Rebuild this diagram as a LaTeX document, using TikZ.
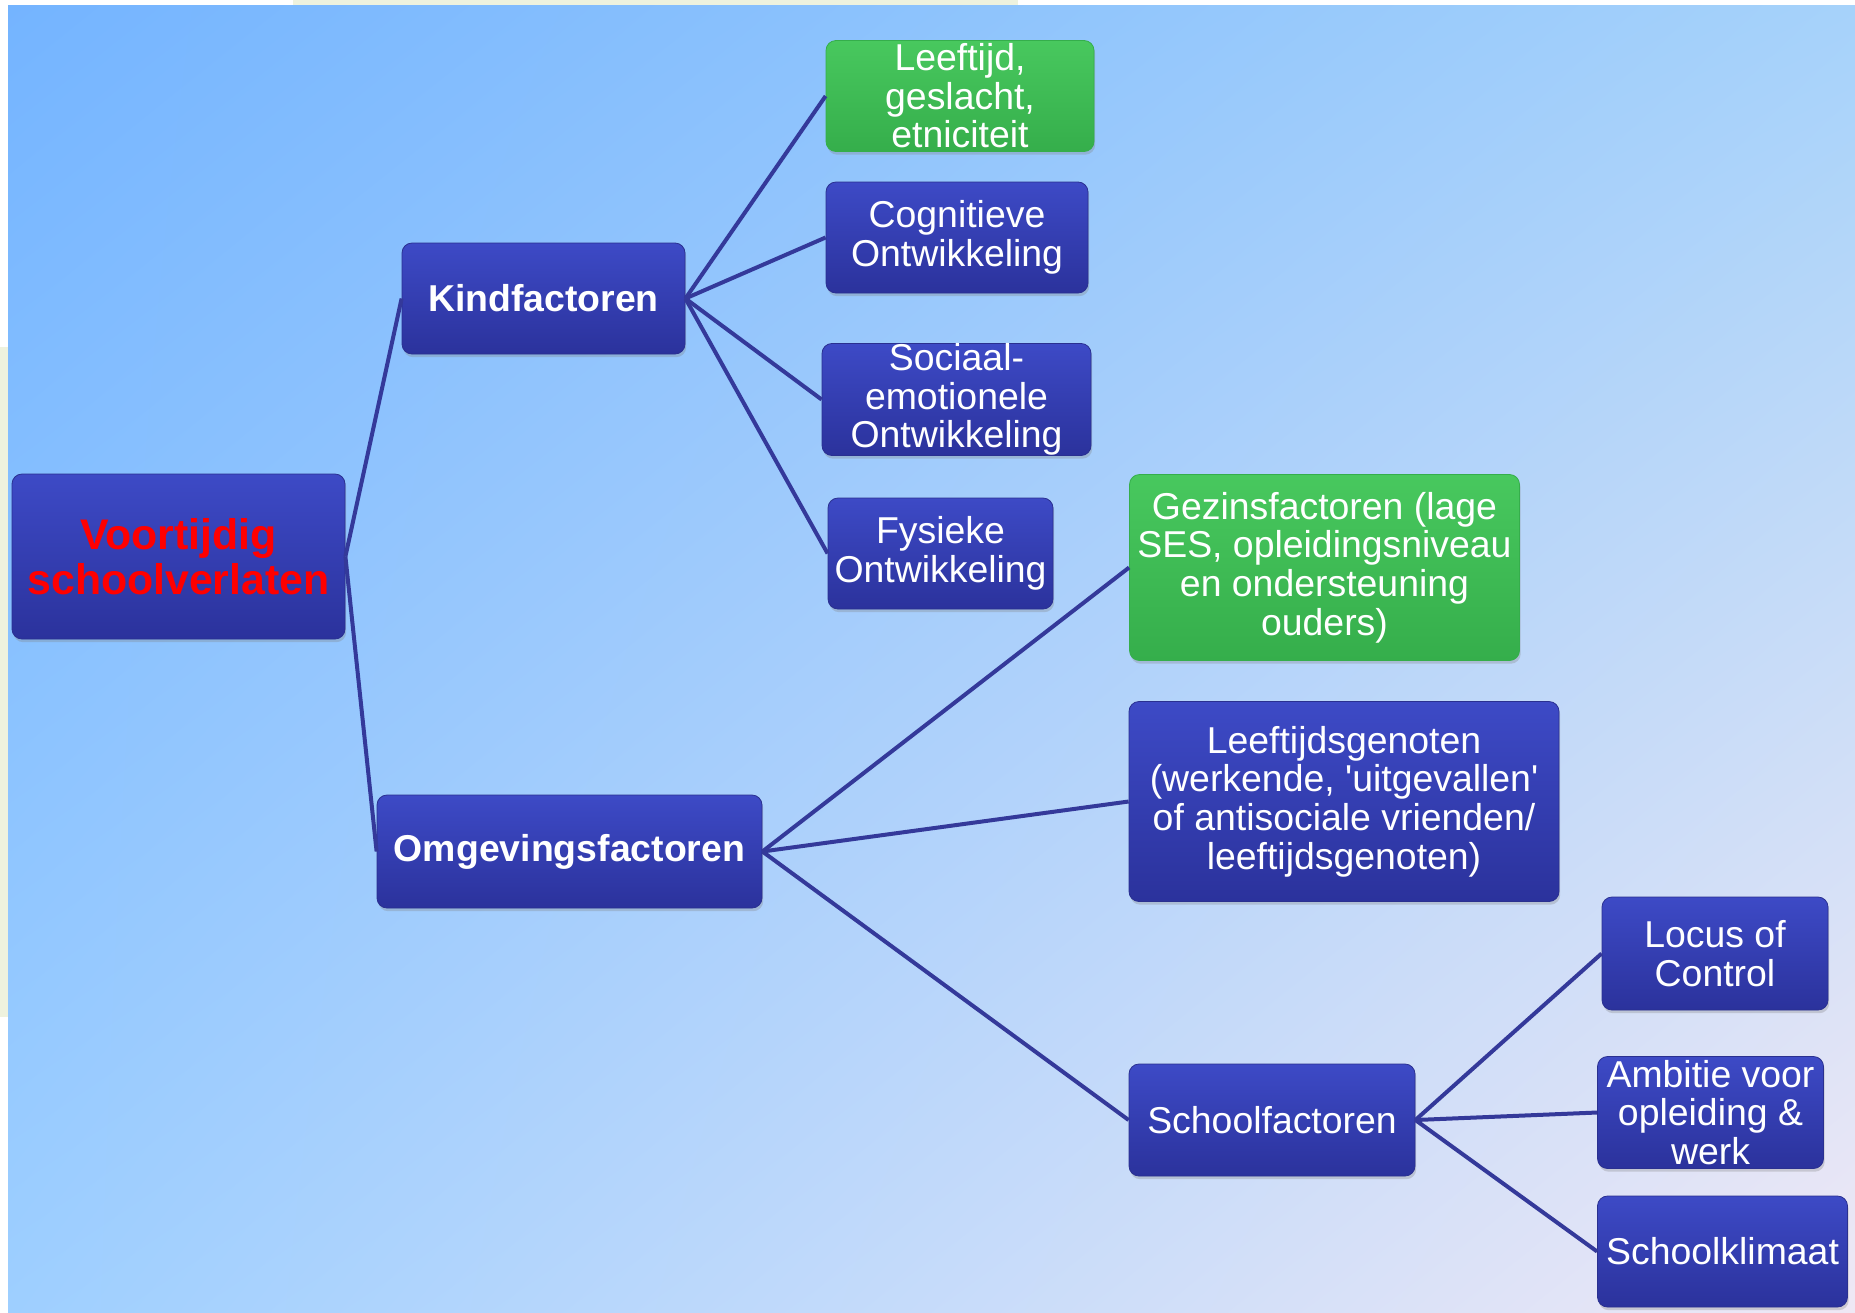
\documentclass[tikz,border=0pt]{standalone}
\usepackage{fontspec}
\setmainfont{Liberation Sans}
\usepackage{tikz}
\usetikzlibrary{shadows,shadings}
\definecolor{vsbgtl}{HTML}{74B4FF}
\definecolor{vsbgtr}{HTML}{A6D2FA}
\definecolor{vsbgbl}{HTML}{9ECFFF}
\definecolor{vsbgbr}{HTML}{EFE8F5}
\definecolor{vscream}{HTML}{EEF2DE}
\definecolor{vsblue}{HTML}{3340B8}
\definecolor{vsbluetop}{HTML}{3D4AC6}
\definecolor{vsbluebot}{HTML}{2B329C}
\definecolor{vsgreen}{HTML}{3DBE55}
\definecolor{vsgreentop}{HTML}{48C85E}
\definecolor{vsgreenbot}{HTML}{35AE4B}
\definecolor{vsedge}{HTML}{2A3090}
\definecolor{vsline}{HTML}{34399A}
\definecolor{vsred}{HTML}{FF0000}

\begin{document}
\begin{tikzpicture}[
  x=0.5pt, y=-0.5pt,
  font=\fontsize{18.7}{19.3}\selectfont,
  box/.style={rounded corners=5pt, align=center, inner sep=0pt, text=white,
              line width=0.4pt,
              drop shadow={shadow xshift=0.6pt, shadow yshift=-1.6pt, opacity=0.3}},
  factor/.style={box, draw=vsedge, top color=vsbluetop, middle color=vsblue,
                 bottom color=vsbluebot},
  given/.style={box, draw=vsgreenbot, top color=vsgreentop, middle color=vsgreen,
                bottom color=vsgreenbot},
  head/.style={factor, font=\fontsize{18.7}{19.3}\selectfont\bfseries},
  conn/.style={draw=vsline, line width=2pt}
]

% slide background
\useasboundingbox (0,0) rectangle (1855,1312);
\fill[white] (0,0) rectangle (1855,1312);
\fill[vscream] (293,0) rectangle (1018,5);
\fill[vscream] (0,347) rectangle (8,1017);
\shade[upper left=vsbgtl, upper right=vsbgtr, lower left=vsbgbl,
       lower right=vsbgbr] (8,5) rectangle (1855,1312);

\node[factor, font=\fontsize{21.4}{22.3}\selectfont\bfseries, text=vsred,
      minimum width=166.5pt, minimum height=82.5pt] (root)
  at (178.5,556.5) {Voortijdig\\schoolverlaten};

\node[head, minimum width=141.5pt, minimum height=55.5pt] (kind)
  at (543.5,298.5) {Kindfactoren};
\node[head, minimum width=192.5pt, minimum height=56.5pt] (omg)
  at (569.5,851.5) {Omgevingsfactoren};

% child factors
\node[given, minimum width=134pt, minimum height=55.5pt] (leeftijd)
  at (960,96) {Leeftijd,\\geslacht,\\etniciteit};
\node[factor, minimum width=131pt, minimum height=55.5pt] (cogn)
  at (957,237.5) {Cognitieve\\Ontwikkeling};
\node[factor, minimum width=134.5pt, minimum height=55.5pt] (sociaal)
  at (956.5,399.5) {Sociaal-\\emotionele\\Ontwikkeling};
\node[factor, minimum width=112.5pt, minimum height=55.5pt] (fysiek)
  at (940.5,553.5) {Fysieke\\Ontwikkeling};

% environment factors
\node[given, minimum width=195pt, minimum height=93pt] (gezin)
  at (1324.5,567.5) {Gezinsfactoren (lage\\SES, opleidingsniveau\\en ondersteuning\\ouders)};
\node[factor, minimum width=215pt, minimum height=100pt] (peers)
  at (1344,801.5) {Leeftijdsgenoten\\(werkende, \textquotesingle uitgevallen\textquotesingle\\of antisociale vrienden/\\leeftijdsgenoten)};
\node[factor, minimum width=143pt, minimum height=56pt] (school)
  at (1272,1120) {Schoolfactoren};

% school factors
\node[factor, minimum width=113pt, minimum height=56.5pt] (locus)
  at (1715,953.5) {Locus of\\Control};
\node[factor, minimum width=113pt, minimum height=56pt] (ambitie)
  at (1710.5,1112.5) {Ambitie voor\\opleiding \&\\werk};
\node[factor, minimum width=125pt, minimum height=55.5pt] (klimaat)
  at (1722.5,1251.5) {Schoolklimaat};

\draw[conn] (root.east) -- (kind.west);
\draw[conn] (root.east) -- (omg.west);
\draw[conn] (kind.east) -- (leeftijd.west);
\draw[conn] (kind.east) -- (cogn.west);
\draw[conn] (kind.east) -- (sociaal.west);
\draw[conn] (kind.east) -- (fysiek.west);
\draw[conn] (omg.east) -- (gezin.west);
\draw[conn] (omg.east) -- (peers.west);
\draw[conn] (omg.east) -- (school.west);
\draw[conn] (school.east) -- (locus.west);
\draw[conn] (school.east) -- (ambitie.west);
\draw[conn] (school.east) -- (klimaat.west);

\end{tikzpicture}
\end{document}
